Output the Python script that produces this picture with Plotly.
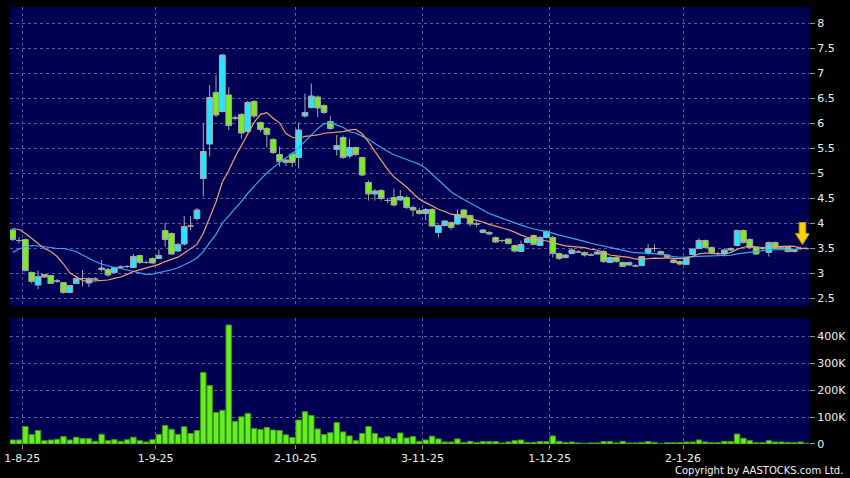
import plotly.graph_objects as go
import pandas as pd

# ---------------- data ----------------
holidays = ["2025-10-01", "2025-10-07", "2025-10-29", "2025-12-25", "2025-12-26", "2026-01-01"]
all_days = pd.bdate_range("2025-07-31", "2026-01-30")
dates = [d for d in all_days if d.strftime("%Y-%m-%d") not in holidays]

opens = [3.86, 3.65, 3.67, 3.01, 2.76, 2.97, 2.95, 2.84, 2.81, 2.61,
         2.79, 2.89, 2.80, 2.88, 3.07, 3.07, 3.01, 3.12, 3.13, 3.11,
         3.35, 3.21, 3.29, 3.29, 3.85, 3.79, 3.44, 3.58, 3.94, 4.09,
         4.89, 5.58, 6.61, 6.23, 6.56, 6.10, 6.17, 5.83, 6.43, 6.01,
         5.89, 5.67, 5.37, 5.26, 5.38, 5.31, 6.14, 6.31, 6.52, 6.35,
         6.03, 5.47, 5.71, 5.34, 5.51, 5.31, 4.81, 4.58, 4.65, 4.45,
         4.51, 4.46, 4.51, 4.31, 4.25, 4.19, 4.27, 3.81, 3.95, 4.01,
         3.98, 4.26, 4.15, 3.98, 3.81, 3.81, 3.71, 3.65, 3.68, 3.55,
         3.43, 3.61, 3.75, 3.55, 3.71, 3.71, 3.39, 3.31, 3.39, 3.42,
         3.41, 3.36, 3.38, 3.43, 3.21, 3.31, 3.21, 3.16, 3.14, 3.15,
         3.39, 3.49, 3.43, 3.36, 3.26, 3.23, 3.17, 3.37, 3.49, 3.65,
         3.51, 3.39, 3.38, 3.46, 3.55, 3.85, 3.67, 3.51, 3.49, 3.41,
         3.61, 3.50, 3.51, 3.43, 3.49, 3.49]
highs = [3.88, 3.71, 3.69, 3.03, 3.05, 2.98, 2.96, 2.88, 2.82, 2.76,
         2.93, 3.06, 2.91, 2.92, 3.26, 3.10, 3.13, 3.15, 3.16, 3.38,
         3.37, 3.25, 3.31, 3.47, 4.01, 3.81, 3.60, 4.14, 4.14, 4.30,
         5.99, 6.76, 6.96, 7.38, 6.72, 6.15, 6.20, 6.45, 6.46, 6.03,
         5.92, 5.70, 5.53, 5.28, 5.42, 6.01, 6.59, 6.79, 6.55, 6.37,
         6.14, 5.76, 5.75, 5.69, 5.53, 5.33, 4.85, 4.68, 4.68, 4.50,
         4.69, 4.66, 4.55, 4.35, 4.30, 4.30, 4.30, 3.97, 4.06, 4.03,
         4.27, 4.28, 4.17, 4.03, 3.88, 3.84, 3.73, 3.67, 3.70, 3.57,
         3.65, 3.71, 3.77, 3.74, 3.86, 3.74, 3.41, 3.38, 3.50, 3.46,
         3.43, 3.40, 3.44, 3.46, 3.33, 3.33, 3.23, 3.23, 3.18, 3.34,
         3.58, 3.57, 3.45, 3.38, 3.28, 3.25, 3.32, 3.50, 3.70, 3.67,
         3.53, 3.42, 3.48, 3.51, 3.87, 3.87, 3.70, 3.53, 3.52, 3.63,
         3.63, 3.53, 3.53, 3.49, 3.52, 3.51]
lows = [3.64, 3.59, 3.03, 2.79, 2.68, 2.90, 2.78, 2.80, 2.59, 2.60,
        2.78, 2.73, 2.72, 2.86, 3.03, 2.93, 2.99, 3.08, 3.10, 3.10,
        3.18, 3.19, 3.19, 3.28, 3.53, 3.36, 3.42, 3.55, 3.86, 4.05,
        4.53, 5.33, 6.12, 6.21, 5.86, 6.05, 5.69, 5.80, 6.10, 5.82,
        5.51, 5.38, 5.13, 5.14, 5.12, 5.09, 6.11, 6.29, 6.12, 6.18,
        5.86, 5.35, 5.28, 5.30, 5.33, 4.94, 4.45, 4.45, 4.45, 4.40,
        4.33, 4.44, 4.28, 4.13, 4.17, 4.06, 3.92, 3.71, 3.93, 3.86,
        3.96, 4.09, 3.93, 3.92, 3.79, 3.75, 3.60, 3.61, 3.57, 3.41,
        3.42, 3.59, 3.55, 3.54, 3.69, 3.31, 3.26, 3.29, 3.37, 3.40,
        3.33, 3.34, 3.37, 3.20, 3.20, 3.21, 3.12, 3.15, 3.12, 3.13,
        3.36, 3.43, 3.35, 3.30, 3.19, 3.15, 3.16, 3.35, 3.47, 3.49,
        3.39, 3.36, 3.33, 3.44, 3.53, 3.59, 3.49, 3.36, 3.46, 3.33,
        3.47, 3.47, 3.41, 3.41, 3.46, 3.47]
closes = [3.67, 3.65, 3.05, 2.83, 2.93, 2.92, 2.79, 2.84, 2.61, 2.75,
          2.89, 2.89, 2.89, 2.88, 3.10, 2.96, 3.11, 3.12, 3.13, 3.33,
          3.21, 3.21, 3.20, 3.35, 3.67, 3.38, 3.57, 3.93, 3.94, 4.26,
          5.43, 6.51, 6.16, 7.36, 5.95, 6.10, 5.80, 6.41, 6.14, 5.87,
          5.77, 5.41, 5.23, 5.21, 5.21, 5.86, 6.21, 6.54, 6.30, 6.21,
          5.89, 5.55, 5.31, 5.51, 5.37, 4.96, 4.58, 4.64, 4.49, 4.45,
          4.36, 4.53, 4.31, 4.26, 4.19, 4.27, 3.94, 3.95, 4.04, 3.91,
          4.17, 4.11, 3.98, 3.98, 3.86, 3.78, 3.62, 3.65, 3.59, 3.44,
          3.57, 3.69, 3.57, 3.71, 3.83, 3.39, 3.29, 3.36, 3.46, 3.42,
          3.36, 3.36, 3.42, 3.23, 3.31, 3.23, 3.13, 3.21, 3.14, 3.33,
          3.49, 3.49, 3.37, 3.32, 3.21, 3.18, 3.30, 3.48, 3.65, 3.51,
          3.41, 3.39, 3.46, 3.49, 3.85, 3.61, 3.51, 3.38, 3.49, 3.61,
          3.49, 3.50, 3.43, 3.47, 3.49, 3.49]
volumes_k = [15, 15, 65, 35, 50, 12.5, 15, 17.5, 27.5, 15,
             25, 20, 20, 10, 36, 12.5, 16, 10, 16, 25,
             12.5, 7.5, 16, 35, 69, 55, 36, 64, 39, 50,
             266, 217, 117, 125, 442, 84, 101, 114, 58, 54,
             62, 52, 50, 34, 24, 89, 120, 106, 56, 35,
             42, 80, 45, 30, 12.5, 39, 65, 39, 22.5, 27.5,
             20, 41, 22.5, 27.5, 10, 15, 29, 19, 7.5, 7.5,
             19, 6, 10, 6, 9, 9, 9, 4, 7.5, 12.5,
             15, 6, 6, 9, 9, 30, 10, 6, 7.5, 4,
             2.5, 4, 4, 9, 9, 4, 10, 4, 4, 6,
             9, 6, 0.5, 5, 5, 5, 7.5, 7.5, 15, 7.5,
             5, 5, 10, 9, 37, 21, 12.5, 5, 5, 12.5,
             7.5, 7.5, 6, 5, 7.5, 2.5]
# moving-average values for the first days (window not yet full)
ma10_head = [3.89, 3.87, 3.79, 3.69, 3.58, 3.49, 3.43, 3.33, 3.18]
ma20_head = [3.41, 3.48, 3.53, 3.55, 3.54, 3.53, 3.51, 3.49, 3.49, 3.46,
             3.43, 3.36, 3.29, 3.23, 3.18, 3.14, 3.11, 3.09, 3.06]
price_ticks = [2.5, 3, 3.5, 4, 4.5, 5, 5.5, 6, 6.5, 7, 7.5, 8]
price_tick_text = ["2.5", "3", "3.5", "4", "4.5", "5", "5.5", "6", "6.5", "7", "7.5", "8"]
vol_ticks = [0, 100000, 200000, 300000, 400000]
vol_tick_text = ["0", "100K", "200K", "300K", "400K"]

n = len(dates)
idx = list(range(n))
volumes = [v * 1000 for v in volumes_k]
cs = pd.Series(closes)
ma10 = list(ma10_head) + list(cs.rolling(10).mean().iloc[len(ma10_head):])
ma20 = list(ma20_head) + list(cs.rolling(20).mean().iloc[len(ma20_head):])

# month-start ticks (first trading day of each month)
tick_pos, tick_txt = [], []
for i, d in enumerate(dates):
    if i == 0 or d.month != dates[i - 1].month:
        if i == 0 and d.day > 20:
            continue
        tick_pos.append(i + 0.5)
        tick_txt.append(f"{d.day}-{d.month}-{d.year % 100:02d}")

hover = [d.strftime("%Y-%m-%d") for d in dates]

# ---------------- styles ----------------
NAVY = "#000052"
GRID = "#5c5ca0"
TXT = "#f0f0f0"
FONT = "DejaVu Sans"

fig = go.Figure()
fig.add_trace(go.Scatter(x=idx, y=ma20, mode="lines", line=dict(color="#3aa6f0", width=1.2),
                         xaxis="x2", yaxis="y", hoverinfo="skip", showlegend=False))
fig.add_trace(go.Scatter(x=idx, y=ma10, mode="lines", line=dict(color="#f0a070", width=1.2),
                         xaxis="x2", yaxis="y", hoverinfo="skip", showlegend=False))
fig.add_trace(go.Candlestick(
    x=idx, open=opens, high=highs, low=lows, close=closes, text=hover,
    increasing=dict(fillcolor="#22e8ff", line=dict(color="#a8a8b0", width=1)),
    decreasing=dict(fillcolor="#77ee22", line=dict(color="#a0a8a0", width=1)),
    whiskerwidth=0, xaxis="x2", yaxis="y", showlegend=False))
fig.add_trace(go.Bar(x=idx, y=volumes, marker=dict(color="#66ee22", line=dict(color="#3a9a10", width=1)),
                     xaxis="x", yaxis="y2", showlegend=False, hovertext=hover))

x_range = [-0.42, n - 1 + 0.32]
common_x = dict(range=x_range, tickmode="array", tickvals=tick_pos, showgrid=True,
                gridcolor=GRID, griddash="3px,3px", gridwidth=1, zeroline=False,
                showline=False, rangeslider=dict(visible=False), fixedrange=True)

fig.update_layout(
    width=850, height=478,
    margin=dict(l=4, r=40, t=7, b=34),
    paper_bgcolor="black", plot_bgcolor=NAVY,
    font=dict(family=FONT, size=11, color=TXT),
    bargap=0.15, boxgap=0.1, boxgroupgap=0.0, showlegend=False,
    xaxis=dict(**common_x, domain=[0, 1], anchor="y2", ticktext=tick_txt,
               ticks="outside", ticklen=4, tickcolor="#909090",
               ticklabeloverflow="allow",
               tickfont=dict(family=FONT, size=11, color=TXT)),
    xaxis2=dict(**common_x, domain=[0, 1], anchor="y", matches="x", showticklabels=False, ticks=""),
    yaxis=dict(domain=[0.3146, 1], anchor="x2", side="right", range=[2.33, 8.32],
               tickmode="array", tickvals=price_ticks, ticktext=price_tick_text,
               showgrid=True, gridcolor=GRID, griddash="3px,3px", zeroline=False,
               ticks="outside", ticklen=5, tickcolor="#909090",
               tickfont=dict(family=FONT, size=11, color=TXT), fixedrange=True),
    yaxis2=dict(domain=[0, 0.2876], anchor="x", side="right", range=[0, 467000],
                tickmode="array", tickvals=vol_ticks, ticktext=vol_tick_text,
                showgrid=True, gridcolor=GRID, griddash="3px,3px", zeroline=False,
                ticks="outside", ticklen=5, tickcolor="#909090",
                tickfont=dict(family=FONT, size=11, color=TXT), fixedrange=True),
)

# yellow marker arrow above the latest candle
fig.add_shape(type="path", xref="x2", yref="y", xsizemode="pixel", ysizemode="pixel",
              xanchor=n - 1, yanchor=highs[-1],
              path="M -4.5,3 L 2.5,14 L -1.2,14 L -1.2,25 L -7.8,25 L -7.8,14 L -11.5,14 Z",
              fillcolor="#f8d400", line=dict(color="#d89000", width=1), layer="above")

fig.add_annotation(text="Copyright by AASTOCKS.com Ltd.", xref="paper", yref="paper",
                   x=1.0447, y=-0.0595, xanchor="right", yanchor="middle", showarrow=False,
                   font=dict(family=FONT, size=10, color=TXT))

fig.write_html("out.html", config={"displayModeBar": False},
               post_script="document.body.style.margin='0';document.body.style.padding='0';")
